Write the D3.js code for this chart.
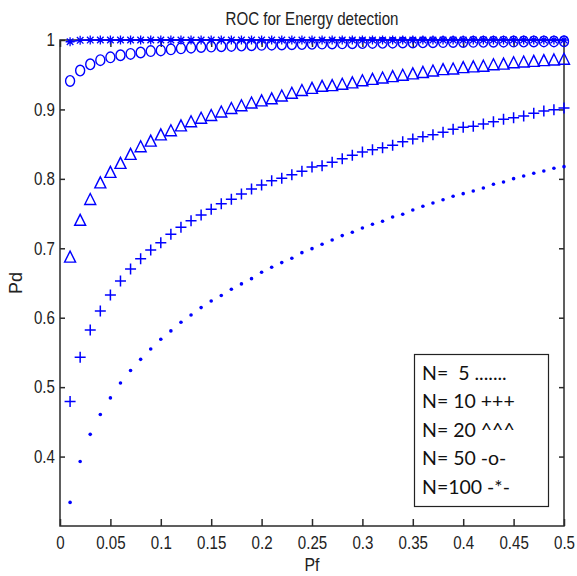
<!DOCTYPE html>
<html>
<head>
<meta charset="utf-8">
<script src="https://cdn.jsdelivr.net/npm/d3@7"></script>
<style>
  html, body { margin: 0; padding: 0; background: #fff; }
  svg { display: block; }
  .tick-label, .title, .axis-label { font-family: "Liberation Sans", Arial, sans-serif; fill: #222; }
  .legend-text { font-family: Lato, "Open Sans", sans-serif; fill: #111; white-space: pre; }
</style>
</head>
<body>
<svg id="chart" width="577" height="576"></svg>
<script>
// ---------- data ----------
const pf = d3.range(1, 51).map(i => i / 100); // 0.01 ... 0.50

const pdN5 = [0.334,0.393,0.432,0.4605,0.4845,0.506,0.524,0.540,0.555,0.569,
              0.581,0.5935,0.604,0.6146,0.624,0.632,0.641,0.6487,0.6563,0.6655,
              0.6727,0.6794,0.6856,0.6937,0.6995,0.7058,0.712,0.7183,0.7231,0.7293,
              0.7346,0.739,0.7451,0.749,0.7552,0.7605,0.7653,0.770,0.775,0.7787,
              0.7826,0.7869,0.7922,0.7955,0.8003,0.8042,0.808,0.8114,0.8153,0.8176];

const pdN10 = [0.4792,0.5431,0.5824,0.6098,0.6328,0.653,0.6703,0.6851,0.6976,0.7081,
               0.7202,0.7303,0.7398,0.748,0.7562,0.7643,0.7706,0.7783,0.7855,0.7912,
               0.7974,0.8009,0.806,0.8109,0.8171,0.819,0.8239,0.8291,0.834,0.8387,
               0.842,0.8449,0.8484,0.8536,0.8575,0.8608,0.8636,0.8671,0.8714,0.8743,
               0.8757,0.879,0.8824,0.8858,0.8881,0.8906,0.8945,0.8978,0.8996,0.9021];

const pdN20 = [0.688,0.741,0.771,0.795,0.810,0.823,0.836,0.847,0.855,0.864,
               0.870,0.877,0.883,0.888,0.892,0.897,0.902,0.906,0.910,0.913,
               0.916,0.920,0.924,0.928,0.931,0.934,0.935,0.937,0.939,0.942,
               0.944,0.946,0.948,0.950,0.952,0.954,0.956,0.958,0.959,0.961,
               0.962,0.963,0.965,0.966,0.968,0.969,0.970,0.971,0.972,0.973];

const pdN50 = [0.941,0.956,0.965,0.971,0.975,0.978,0.980,0.982,0.984,0.985,
               0.9865,0.988,0.989,0.990,0.9905,0.991,0.9915,0.992,0.9925,0.993,
               0.9933,0.9936,0.9939,0.9942,0.9945,0.9948,0.995,0.9952,0.9954,0.9956,
               0.9958,0.996,0.9962,0.9964,0.9965,0.9967,0.9968,0.997,0.9971,0.9972,
               0.9973,0.9974,0.9975,0.9976,0.9977,0.9978,0.9979,0.998,0.998,0.9981];

const pdN100 = [0.9975,0.9995,0.9999,1,1,1,1,1,1,1,
                1,1,1,1,1,1,1,1,1,1,
                1,1,1,1,1,1,1,1,1,1,
                1,1,1,1,1,1,1,1,1,1,
                1,1,1,1,1,1,1,1,1,1];

const xTicks = [0,0.05,0.1,0.15,0.2,0.25,0.3,0.35,0.4,0.45,0.5];
const xTickLabels = ["0","0.05","0.1","0.15","0.2","0.25","0.3","0.35","0.4","0.45","0.5"];
const yTicks = [0.4,0.5,0.6,0.7,0.8,0.9,1];
const yTickLabels = ["0.4","0.5","0.6","0.7","0.8","0.9","1"];

const titleText = "ROC for Energy detection";
const xLabel = "Pf";
const yLabel = "Pd";
const legendLines = ["N=  5 .......","N= 10 +++","N= 20 ^^^","N= 50 -o-","N=100 -*-"];

// ---------- layout ----------
const svg = d3.select("#chart");
const L = 60, R = 564, T = 40, B = 526;
const x = d3.scaleLinear().domain([0, 0.5]).range([L, R]);
const y = d3.scaleLinear().domain([0.3, 1]).range([B, T]);
const blue = "#0000ff";
const axisColor = "#2a2a2a";
const narrow = 0.84; // horizontal squeeze to mimic the condensed font

// frame
svg.append("rect").attr("x", L).attr("y", T).attr("width", R - L).attr("height", B - T)
   .attr("fill", "none").attr("stroke", axisColor).attr("stroke-width", 1.5);

// axes via d3 (tick marks inward)
const xAxisB = d3.axisBottom(x).tickValues(xTicks).tickSize(-7).tickFormat((d, i) => xTickLabels[i]).tickPadding(10);
const gxb = svg.append("g").attr("transform", `translate(0,${B})`).call(xAxisB);
const xAxisT = d3.axisTop(x).tickValues(xTicks).tickSize(-7).tickFormat("");
const gxt = svg.append("g").attr("transform", `translate(0,${T})`).call(xAxisT);
const yAxisL = d3.axisLeft(y).tickValues(yTicks).tickSize(-5).tickFormat((d, i) => yTickLabels[i]).tickPadding(6);
const gyl = svg.append("g").attr("transform", `translate(${L},0)`).call(yAxisL);
const yAxisR = d3.axisRight(y).tickValues(yTicks).tickSize(-5).tickFormat("");
const gyr = svg.append("g").attr("transform", `translate(${R},0)`).call(yAxisR);

[gxb, gxt, gyl, gyr].forEach(g => {
  g.select(".domain").remove();
  g.selectAll(".tick line").attr("stroke", axisColor).attr("stroke-width", 1.5);
  g.selectAll(".tick text").attr("class", "tick-label").attr("fill", "#222")
    .style("font-size", "18px").attr("transform", `scale(${narrow},1)`);
});
gxb.selectAll(".tick text").attr("dy", "0.71em");

// ---------- series ----------
const plot = svg.append("g");

// N=5 : dots
plot.append("g").selectAll("circle").data(pf).join("circle")
  .attr("cx", d => x(d)).attr("cy", (d, i) => y(pdN5[i])).attr("r", 1.8).attr("fill", blue);

// N=10 : plus
plot.append("g").selectAll("path").data(pf).join("path")
  .attr("d", (d, i) => {
    const cx = x(d), cy = y(pdN10[i]), s = 5.5;
    return `M${cx - s},${cy}H${cx + s}M${cx},${cy - s}V${cy + s}`;
  })
  .attr("stroke", blue).attr("stroke-width", 1.5).attr("fill", "none");

// N=20 : triangles
plot.append("g").selectAll("path").data(pf).join("path")
  .attr("d", (d, i) => {
    const cx = x(d), cy = y(pdN20[i]), w = 5.5, h = 5.5;
    return `M${cx},${cy - h}L${cx + w},${cy + h}L${cx - w},${cy + h}Z`;
  })
  .attr("stroke", blue).attr("stroke-width", 1.4).attr("fill", "none");

// N=50 : circles
plot.append("g").selectAll("ellipse").data(pf).join("ellipse")
  .attr("cx", d => x(d)).attr("cy", (d, i) => y(pdN50[i])).attr("rx", 4.5).attr("ry", 5.3)
  .attr("stroke", blue).attr("stroke-width", 1.4).attr("fill", "none");

// N=100 : line + stars
const line100 = d3.line().x(d => x(d)).y((d, i) => y(pdN100[i]));
plot.append("path").datum(pf).attr("d", line100)
  .attr("stroke", blue).attr("stroke-width", 1.5).attr("fill", "none");
plot.append("g").selectAll("path").data(pf).join("path")
  .attr("d", (d, i) => {
    const cx = x(d), cy = y(pdN100[i]), s = 4.5, t = 3.3;
    return `M${cx - s},${cy}H${cx + s}M${cx},${cy - s}V${cy + s}` +
           `M${cx - t},${cy - t}L${cx + t},${cy + t}M${cx - t},${cy + t}L${cx + t},${cy - t}`;
  })
  .attr("stroke", blue).attr("stroke-width", 1.3).attr("fill", "none");

// ---------- texts ----------
const cxPlot = (L + R) / 2;
svg.append("text").attr("class", "title")
  .attr("transform", `translate(${cxPlot},25) scale(${narrow},1)`)
  .attr("text-anchor", "middle").style("font-size", "18px").text(titleText);
svg.append("text").attr("class", "axis-label")
  .attr("transform", `translate(${cxPlot},571) scale(0.88,1)`)
  .attr("text-anchor", "middle").style("font-size", "18px").text(xLabel);
svg.append("text").attr("class", "axis-label")
  .attr("transform", `translate(22,${(T + B) / 2}) rotate(-90)`)
  .attr("text-anchor", "middle").style("font-size", "18px").text(yLabel);

// ---------- legend ----------
const lg = svg.append("g");
lg.append("rect").attr("x", 414.5).attr("y", 354.5).attr("width", 134).attr("height", 152)
  .attr("fill", "#fff").attr("stroke", "#222").attr("stroke-width", 1.2);
lg.selectAll("text").data(legendLines).join("text")
  .attr("class", "legend-text")
  .attr("transform", (d, i) => `translate(422,${380 + i * 28.4})`)
  .style("font-size", "19.5px")
  .attr("xml:space", "preserve")
  .text(d => d);
</script>
</body>
</html>
